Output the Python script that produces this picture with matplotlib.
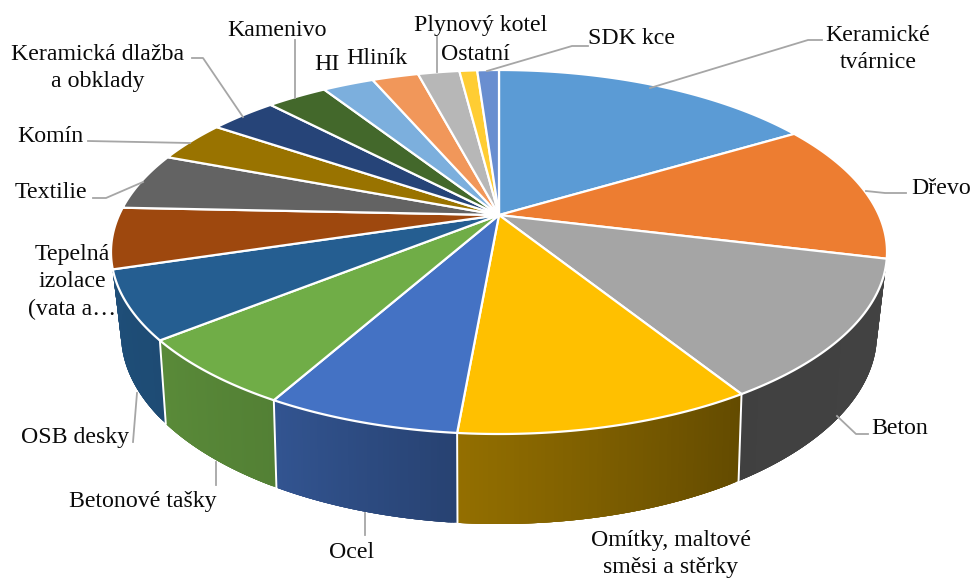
import numpy as np
import matplotlib
matplotlib.use("Agg")
import matplotlib.pyplot as plt
from matplotlib.collections import PolyCollection

# share of each slice, clockwise from 12 o'clock
categories = [
    "Keramické\ntvárnice", "Dřevo", "Beton", "Omítky, maltové\nsměsi a stěrky", "Ocel",
    "Betonové tašky", "OSB desky", "Tepelná\nizolace\n(vata a…", "Textilie", "Komín",
    "Keramická dlažba\na obklady", "Kamenivo", "HI", "Hliník", "Plynový kotel", "Ostatní", "SDK kce",
]
values = [16.4, 12.4, 12.3, 10.25, 6.7, 6.1, 6.05, 5.4, 5.1, 3.7, 3.4, 3.05, 2.6, 2.35, 2.1, 0.9, 1.1]
colors = [
    "#5B9BD5", "#ED7D31", "#A5A5A5", "#FFC000", "#4472C4", "#70AD47", "#255E91", "#9E480E", "#636363",
    "#997300", "#264478", "#43682B", "#7CAFDD", "#F1975A", "#B7B7B7", "#FFCD33", "#698ED0",
]
# slices whose outer wall can be seen
wall_slices = [2, 3, 4, 5, 6]

# label centre x, centre y (pixels)
label_pos = [
    (878, 49), (941, 188), (900, 429), (671, 554), (352, 553),
    (143, 502), (75, 437), (72, 282), (51, 193), (50, 137),
    (98, 68), (277, 30), (327, 65), (377, 59), (481, 26), (475, 55), (632, 39),
]
# leader lines, in label order (pixels)
leaders = [
    [(650, 88), (808, 40), (822, 40)],
    [(866, 191), (885, 193), (906, 193)],
    [(837, 416), (856, 434), (868, 434)],
    None,
    [(365, 513), (365, 535)],
    [(216, 462), (216, 485)],
    [(137, 393), (133, 442)],
    None,
    [(143, 182), (106, 198), (93, 198)],
    [(190, 143), (88, 141)],
    [(243, 117), (203, 58), (192, 58)],
    [(295, 98), (295, 40)],
    None,
    None,
    [(437, 72), (437, 37)],
    None,
    [(487, 71), (572, 46), (588, 46)],
]

# how dark the outer wall gets going round the pie
shade_theta = [90, 148, 185, 209, 231, 260]
shade_level = [0.41, 0.39, 0.58, 0.74, 0.80, 0.84]


def project(theta, cx, cy, a, b, d):
    # perspective view of a circle: the centre of the pie sits above the ellipse centre
    u = np.sin(theta)
    v = -np.cos(theta)
    den = 1 + d * v
    return cx + a * u * np.sqrt(1 - d**2) / den, cy + b * (v + d) / den


def top_rim(theta):
    return project(theta, 499, 252, 388, 182, -0.203)


def bottom_rim(theta):
    return project(theta, 499, 334, 378, 190, -0.22)


def draw_wall(ax, start, stop, first, last, col):
    # thin overlapping strips so the shade changes smoothly left to right
    t = np.linspace(start, stop, 70)
    xt, yt = top_rim(t)
    xb, yb = bottom_rim(t)
    base = np.array(matplotlib.colors.to_rgb(col))
    quads, shades = [], []
    for j in range(len(t) - 1):
        k = min(j + 4, len(t) - 1)
        quads.append(list(zip(xt[j:k + 1], yt[j:k + 1])) + list(zip(xb[j:k + 1][::-1], yb[j:k + 1][::-1])))
        s = np.interp(np.clip(np.degrees(t[j]), first, last), shade_theta, shade_level)
        shades.append(base * s)
    ax.add_collection(PolyCollection(quads, facecolors=shades, edgecolors="none", zorder=2))


def main():
    plt.rcParams["font.family"] = ["Liberation Serif", "DejaVu Serif"]
    fig = plt.figure(figsize=(9.73, 5.79), dpi=100)
    ax = fig.add_axes([0, 0, 1, 1])
    ax.set_xlim(0, 973)
    ax.set_ylim(579, 0)
    ax.axis("off")

    edges = np.radians(np.concatenate([[0], np.cumsum(values)]) / np.sum(values) * 360)
    apex = (499, 252 + 182 * -0.203)

    # outer wall first, the first and last wall run on behind the top face to fill the silhouette
    for i in wall_slices:
        start, stop = edges[i], edges[i + 1]
        if i == wall_slices[0]:
            start = np.radians(85)
        if i == wall_slices[-1]:
            stop = np.radians(275)
        draw_wall(ax, start, stop, np.degrees(edges[i]), np.degrees(edges[i + 1]), colors[i])
    for i in wall_slices[1:]:
        xt, yt = top_rim(edges[i])
        xb, yb = bottom_rim(edges[i])
        ax.plot([xt, xb], [yt, yb], color="white", lw=1.4, zorder=3)

    # top face
    for i, col in enumerate(colors):
        t = np.linspace(edges[i], edges[i + 1], 60)
        x, y = top_rim(t)
        ax.fill(np.r_[apex[0], x], np.r_[apex[1], y], facecolor=col, edgecolor="white", lw=1.6,
                joinstyle="round", zorder=4)

    # labels and leaders
    for name, pos, line in zip(categories, label_pos, leaders):
        ax.text(pos[0], pos[1], name, ha="center", va="center", fontsize=17.2, color="#0a0a0a",
                linespacing=1.4, zorder=6)
        if line is not None:
            ax.plot([p[0] for p in line], [p[1] for p in line], color="#a6a6a6", lw=1.3, zorder=5)

    fig.savefig("out.png", dpi=100, facecolor="white")


if __name__ == "__main__":
    main()
